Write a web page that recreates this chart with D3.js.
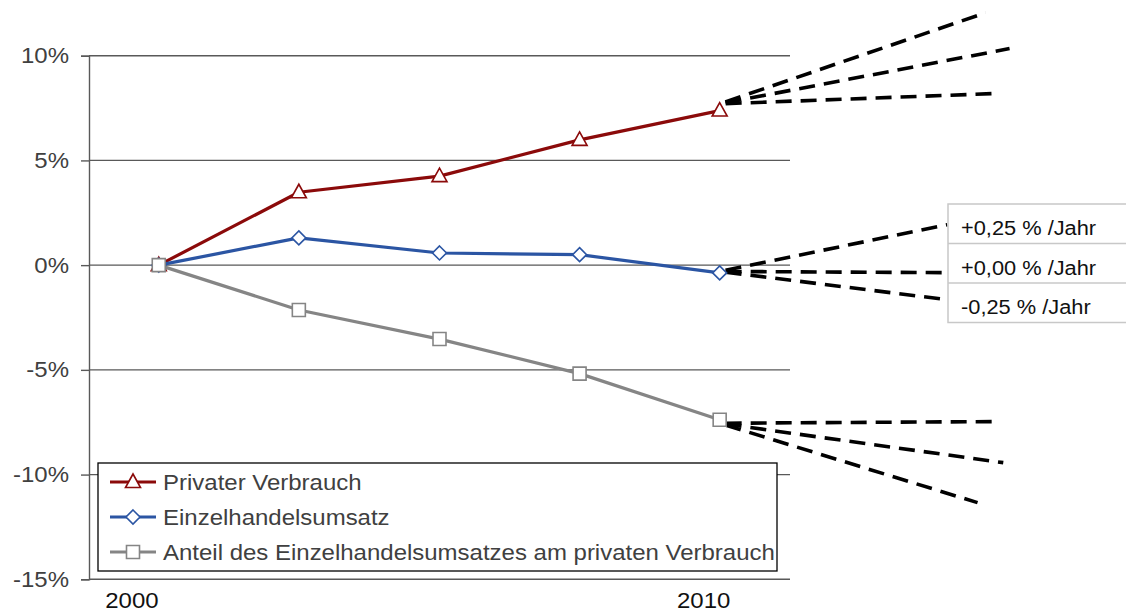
<!DOCTYPE html>
<html>
<head>
<meta charset="utf-8">
<script src="https://cdn.jsdelivr.net/npm/d3@7"></script>
<style>
  html, body { margin: 0; padding: 0; background: #fff; }
  svg { display: block; }
  text { font-family: "Liberation Sans", Arial, sans-serif; }
</style>
</head>
<body>
<div class="container"></div>
<script>
// data
const periods = [2000.47, 2002.92, 2005.38, 2007.83, 2010.28];
const privaterVerbrauch = [0, 3.48, 4.25, 5.98, 7.38];
const einzelhandelsumsatz = [0, 1.3, 0.58, 0.5, -0.37];
const anteil = [0, -2.14, -3.53, -5.18, -7.38];
const seriesNames = [
  "Privater Verbrauch",
  "Einzelhandelsumsatz",
  "Anteil des Einzelhandelsumsatzes am privaten Verbrauch"
];
const yTicks = [10, 5, 0, -5, -10, -15];
const xTicks = [2000, 2010];

// dashed trend projections: start value at last period, then [year, value] ends
const projStart = [7.7, -0.3, -7.55];
const privatProj = [[2014.93, 12.05], [2015.35, 10.34], [2015.15, 8.2]];
const einzelProj = [[2014.26, 1.93], [2014.26, -0.36], [2014.26, -1.65]];
const anteilProj = [[2015.05, -7.47], [2015.24, -9.43], [2014.79, -11.34]];
const trendLabels = ["+0,25 % /Jahr", "+0,00 % /Jahr", "-0,25 % /Jahr"];

const width = 1126;
const height = 614;
const stretchK = 1.09;

const svg = d3.select(".container")
  .append("svg")
  .attr("width", width)
  .attr("height", height)
  .attr("viewBox", `0 0 ${width} ${height}`);

const x = d3.scaleLinear().domain([1999.25, 2011.51]).range([89, 790]);
const y = d3.scaleLinear().domain([-15, 10]).range([579.3, 55.7]);

// widen glyphs a little, the reference is horizontally stretched
const stretch = (sel) => {
  sel.each(function () {
    const w = this.getComputedTextLength();
    d3.select(this).attr("textLength", w * stretchK).attr("lengthAdjust", "spacingAndGlyphs");
  });
};

// gridlines
svg.append("g")
  .selectAll("line")
  .data(yTicks.filter(d => d !== -15))
  .join("line")
  .attr("x1", x.range()[0])
  .attr("x2", x.range()[1])
  .attr("y1", d => y(d))
  .attr("y2", d => y(d))
  .attr("stroke", "#595959")
  .attr("stroke-width", 1.4);

// y axis
const yAxis = svg.append("g")
  .attr("transform", `translate(${x.range()[0]},0)`)
  .call(d3.axisLeft(y).tickValues(yTicks).tickSize(8).tickPadding(12).tickFormat(d => d + "%"));
yAxis.select(".domain").attr("stroke", "#595959").attr("stroke-width", 1.4);
yAxis.selectAll(".tick line").attr("stroke", "#595959").attr("stroke-width", 1.4);
yAxis.selectAll(".tick text")
  .attr("font-size", 22)
  .attr("fill", "#404040")
  .attr("font-family", "Liberation Sans, Arial, sans-serif");

// x axis
svg.append("line")
  .attr("x1", x.range()[0])
  .attr("x2", x.range()[1])
  .attr("y1", y(-15))
  .attr("y2", y(-15))
  .attr("stroke", "#595959")
  .attr("stroke-width", 1.4);
svg.append("g")
  .selectAll("text")
  .data(xTicks)
  .join("text")
  .attr("x", d => x(d))
  .attr("y", 608)
  .attr("text-anchor", "middle")
  .attr("font-size", 22)
  .attr("fill", "#111")
  .text(d => d);

const series = [
  { name: seriesNames[0], values: privaterVerbrauch, color: "#8B0A0A", marker: "triangle", proj: privatProj, start: projStart[0] },
  { name: seriesNames[1], values: einzelhandelsumsatz, color: "#2B55A3", marker: "diamond", proj: einzelProj, start: projStart[1] },
  { name: seriesNames[2], values: anteil, color: "#858585", marker: "square", proj: anteilProj, start: projStart[2] }
];

const markerPath = (type) => {
  if (type === "triangle") return "M0,-8 L7.5,5.5 L-7.5,5.5 Z";
  if (type === "diamond") return "M0,-7 L7,0 L0,7 L-7,0 Z";
  return "M-6.5,-6.5 L6.5,-6.5 L6.5,6.5 L-6.5,6.5 Z";
};

// dashed projections
const lastYear = periods[periods.length - 1];
series.forEach(s => {
  svg.append("g")
    .selectAll("line")
    .data(s.proj)
    .join("line")
    .attr("x1", x(lastYear))
    .attr("y1", y(s.start))
    .attr("x2", d => x(d[0]))
    .attr("y2", d => y(d[1]))
    .attr("stroke", "#000")
    .attr("stroke-width", 3.6)
    .attr("stroke-dasharray", "16 9")
    .attr("stroke-dashoffset", -6);
});

// series lines and markers
const line = d3.line().x((d, i) => x(periods[i])).y(d => y(d));
series.forEach(s => {
  svg.append("path")
    .datum(s.values)
    .attr("d", line)
    .attr("fill", "none")
    .attr("stroke", s.color)
    .attr("stroke-width", 3.2)
    .attr("stroke-linejoin", "round");
});
series.forEach(s => {
  svg.append("g")
    .selectAll("path")
    .data(s.values)
    .join("path")
    .attr("transform", (d, i) => `translate(${x(periods[i])},${y(d)})`)
    .attr("d", markerPath(s.marker))
    .attr("fill", "#fff")
    .attr("stroke", s.color)
    .attr("stroke-width", 1.6);
});

// trend label boxes
const boxLeft = 948;
const boxTop = 204;
const rowH = 39.5;
const boxes = svg.append("g");
boxes.append("rect")
  .attr("x", boxLeft)
  .attr("y", boxTop)
  .attr("width", 200)
  .attr("height", rowH * trendLabels.length)
  .attr("fill", "#fff")
  .attr("stroke", "#c8c8c8")
  .attr("stroke-width", 1.5);
boxes.selectAll("line.sep")
  .data(trendLabels.slice(1))
  .join("line")
  .attr("class", "sep")
  .attr("x1", boxLeft)
  .attr("x2", width)
  .attr("y1", (d, i) => boxTop + rowH * (i + 1))
  .attr("y2", (d, i) => boxTop + rowH * (i + 1))
  .attr("stroke", "#c8c8c8")
  .attr("stroke-width", 1.5);
boxes.selectAll("text")
  .data(trendLabels)
  .join("text")
  .attr("x", boxLeft + 13)
  .attr("y", (d, i) => boxTop + rowH * i + 31)
  .attr("font-size", 20)
  .attr("fill", "#111")
  .text(d => d);

// legend
const legend = svg.append("g");
legend.append("rect")
  .attr("x", 98)
  .attr("y", 463)
  .attr("width", 679)
  .attr("height", 108)
  .attr("fill", "#fff")
  .attr("stroke", "#000")
  .attr("stroke-width", 1.3);
const rows = legend.selectAll("g.row")
  .data(series)
  .join("g")
  .attr("class", "row")
  .attr("transform", (d, i) => `translate(0,${482 + i * 35})`);
rows.append("line")
  .attr("x1", 110)
  .attr("x2", 156)
  .attr("stroke", d => d.color)
  .attr("stroke-width", 3.2);
rows.append("path")
  .attr("transform", "translate(133,0)")
  .attr("d", d => markerPath(d.marker))
  .attr("fill", "#fff")
  .attr("stroke", d => d.color)
  .attr("stroke-width", 1.6);
rows.append("text")
  .attr("x", 163)
  .attr("y", 8)
  .attr("font-size", 22)
  .attr("fill", "#404040")
  .text(d => d.name);

svg.selectAll("text").call(stretch);
</script>
</body>
</html>
